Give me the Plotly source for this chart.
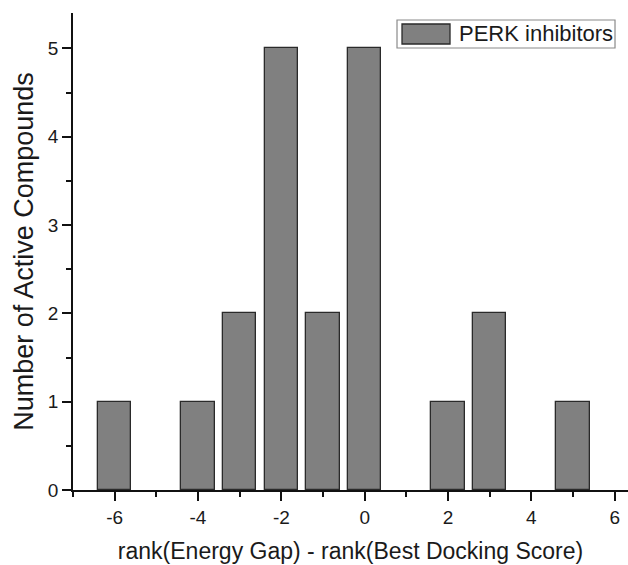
import plotly.graph_objects as go

# Histogram of rank differences for PERK inhibitors
rank_diff = [-6, -4, -3, -2, -1, 0, 2, 3, 5]
n_compounds = [1, 1, 2, 5, 2, 5, 1, 2, 1]

x_tick_vals = [-6, -4, -2, 0, 2, 4, 6]
x_tick_text = ["-6", "-4", "-2", "0", "2", "4", "6"]
y_tick_vals = [0, 1, 2, 3, 4, 5]
y_tick_text = ["0", "1", "2", "3", "4", "5"]

series_name = "PERK inhibitors"
x_title = "rank(Energy Gap) - rank(Best Docking Score)"
y_title = "Number of Active Compounds"

FONT = "Liberation Sans, Arial, sans-serif"
TXT = "#1a1a1a"
BAR_FILL = "#808080"
BAR_EDGE = "#2a2a2a"

fig = go.Figure()
fig.add_trace(go.Bar(
    x=rank_diff,
    y=n_compounds,
    width=0.8,
    name=series_name,
    marker=dict(color=BAR_FILL, line=dict(color=BAR_EDGE, width=1.3)),
    showlegend=False,
))

axis_common = dict(
    showline=True, linecolor="#111", linewidth=1.6,
    ticks="outside", ticklen=9, tickwidth=1.5, tickcolor="#111",
    showgrid=False, zeroline=False,
    tickfont=dict(family=FONT, size=19, color=TXT),
)

fig.update_xaxes(
    range=[-7, 6.32],
    tickmode="array", tickvals=x_tick_vals, ticktext=x_tick_text,
    minor=dict(dtick=1, tick0=0, ticks="outside", ticklen=5, tickwidth=1.5, tickcolor="#111"),
    title=dict(text=x_title, font=dict(family=FONT, size=23, color=TXT), standoff=16),
    **axis_common,
)
fig.update_yaxes(
    range=[0, 5.4],
    tickmode="array", tickvals=y_tick_vals, ticktext=y_tick_text,
    minor=dict(dtick=0.5, tick0=0, ticks="outside", ticklen=5, tickwidth=1.5, tickcolor="#111"),
    title=dict(text=y_title, font=dict(family=FONT, size=27, color=TXT), standoff=6),
    **axis_common,
)

# Boxed legend with a wide swatch, in the upper right of the plot area
fig.add_shape(type="rect", xref="paper", yref="paper",
              x0=0.5838, x1=0.9766, y0=0.9266, y1=0.9853,
              line=dict(color="#8a8a8a", width=1.2), fillcolor="white", layer="above")
fig.add_shape(type="rect", xref="paper", yref="paper",
              x0=0.5928, x1=0.6793, y0=0.935, y1=0.9769,
              line=dict(color=BAR_EDGE, width=1.3), fillcolor=BAR_FILL, layer="above")
fig.add_annotation(xref="paper", yref="paper", x=0.6919, y=0.956,
                   xanchor="left", yanchor="middle", showarrow=False,
                   text=series_name, font=dict(family=FONT, size=22, color=TXT))

fig.update_layout(
    width=628, height=565,
    margin=dict(l=73, r=0, t=13, b=75),
    plot_bgcolor="white", paper_bgcolor="white",
    bargap=0,
)

fig.write_html("out.html")
